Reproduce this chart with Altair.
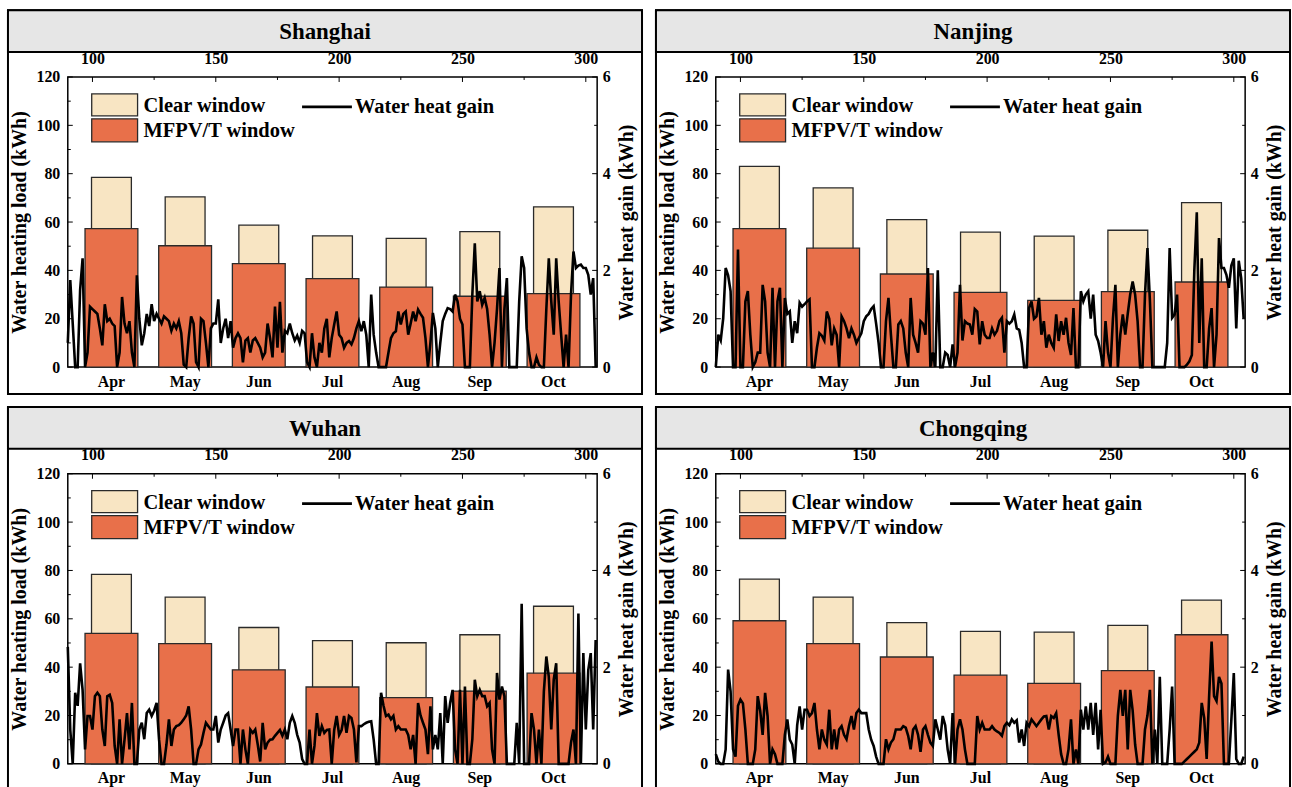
import altair as alt
import pandas as pd

SERIF = "Liberation Serif"
C_CLEAR = "#F8E5C3"
C_MFPV = "#E8704A"

months = ["Apr", "May", "Jun", "Jul", "Aug", "Sep", "Oct"]
days = list(range(90, 305))

clear_sh = [78.5, 70.4, 58.7, 54.3, 53.2, 56.0, 66.3]
mfpv_sh = [57.3, 50.2, 42.8, 36.6, 33.1, 29.3, 30.4]
clear_nj = [83.0, 74.1, 61.0, 55.8, 54.2, 56.6, 68.0]
mfpv_nj = [57.3, 49.2, 38.5, 30.9, 27.6, 31.2, 35.2]
clear_wh = [78.4, 69.0, 56.4, 51.0, 50.1, 53.4, 65.2]
mfpv_wh = [54.0, 49.7, 38.9, 31.8, 27.4, 30.1, 37.5]
clear_cq = [76.4, 69.0, 58.4, 54.8, 54.5, 57.3, 67.7]
mfpv_cq = [59.2, 49.7, 44.2, 36.7, 33.3, 38.6, 53.4]

gain_sh = [
    0.5, 1.8, 0.9, 0.0, 0.0, 1.6, 2.25, 0.0, 0.3, 1.25,
    1.2, 1.15, 1.1, 0.8, 0.45, 1.3, 0.95, 1.0, 0.9, 0.85,
    0.0, 0.3, 1.45, 0.9, 0.7, 0.95, 0.3, 0.0, 1.9, 1.0,
    0.45, 0.7, 1.1, 0.85, 1.3, 0.95, 1.1, 1.0, 0.9, 1.05,
    1.0, 0.95, 0.75, 0.9, 0.8, 0.95, 0.7, 0.05, 0.0, 0.6,
    1.05, 0.9, 0.1, 0.0, 1.0, 0.95, 0.5, 0.0, 0.8, 0.9,
    0.9, 1.4, 0.5, 0.8, 1.0, 0.6, 0.95, 0.4, 0.6, 0.7,
    0.6, 0.1, 0.55, 0.6, 0.3, 0.55, 0.6, 0.5, 0.4, 0.2,
    0.3, 0.9, 0.6, 0.2, 1.25, 0.4, 1.35, 0.3, 0.75, 0.7,
    0.9, 0.7, 0.55, 0.65, 0.5, 0.75, 0.7, 0.1, 0.0, 0.7,
    0.2, 0.0, 0.5, 0.3, 0.8, 1.0, 0.2, 0.6, 0.88, 1.15,
    0.67, 0.6, 0.4, 0.5, 0.54, 0.47, 0.6, 0.8, 0.95, 0.74,
    0.95, 0.67, 0.0, 1.5, 0.67, 0.3, 0.0, 0.0, 0.0, 0.0,
    0.3, 0.6, 0.7, 0.74, 1.15, 0.88, 1.1, 1.15, 0.67, 0.9,
    1.15, 0.95, 1.19, 1.1, 1.02, 0.6, 0.0, 0.5, 1.12, 0.8,
    0.0, 0.5, 0.95, 1.1, 1.22, 1.2, 1.15, 1.5, 1.36, 1.0,
    0.88, 0.0, 0.0, 0.0, 1.5, 2.56, 1.36, 1.57, 1.29, 1.43,
    1.2, 0.67, 0.0, 0.5, 1.2, 2.05, 0.0, 1.2, 1.84, 0.0,
    0.0, 0.0, 0.0, 1.36, 2.29, 2.05, 0.8, 0.3, 0.0, 0.0,
    0.2, 0.05, 0.0, 0.0, 1.2, 2.25, 1.36, 0.67, 2.25, 1.36,
    0.67, 0.0, 0.67, 0.0, 1.5, 2.39, 2.05, 2.1, 2.12, 2.05,
    2.05, 1.91, 1.5, 1.84, 0.0,
]

gain_nj = [
    0.0, 0.67, 0.55, 1.0, 2.05, 1.9, 1.57, 0.0, 0.0, 2.43,
    0.0, 0.0, 1.36, 1.57, 0.67, 0.0, 0.1, 0.3, 0.3, 1.7,
    1.36, 0.3, 0.0, 1.64, 0.0, 1.36, 1.64, 0.0, 1.43, 1.1,
    1.15, 0.5, 0.95, 0.7, 1.33, 1.25, 1.3, 1.36, 1.4, 0.0,
    0.0, 0.4, 0.7, 0.65, 0.55, 1.15, 1.0, 0.45, 0.8, 0.67,
    0.0, 1.05, 0.95, 0.8, 0.6, 0.8, 0.67, 0.5, 0.6, 0.7,
    0.95, 1.05, 1.1, 1.2, 1.26, 0.9, 0.5, 0.0, 0.0, 0.95,
    1.43, 0.67, 0.0, 0.0, 0.88, 0.95, 0.8, 0.3, 0.0, 1.43,
    0.67, 0.5, 0.3, 0.95, 0.9, 0.67, 2.05, 0.0, 0.3, 0.0,
    2.0, 0.0, 0.0, 0.3, 0.25, 0.0, 0.47, 0.0, 0.3, 1.7,
    0.55, 0.95, 0.9, 0.88, 0.67, 1.2, 1.15, 0.47, 0.95, 0.67,
    0.6, 0.6, 0.8, 0.67, 0.75, 0.95, 1.02, 0.3, 0.95, 0.9,
    0.95, 1.09, 0.8, 0.77, 0.5, 0.0, 0.0, 1.22, 1.36, 1.0,
    1.05, 1.43, 0.67, 0.95, 0.4, 0.67, 0.5, 0.4, 1.09, 0.54,
    0.95, 0.67, 1.02, 0.5, 0.25, 1.22, 0.0, 0.0, 1.57, 1.36,
    1.5, 1.57, 1.0, 1.5, 0.67, 0.54, 0.3, 0.0, 0.95, 0.3,
    0.0, 1.0, 1.7, 0.0, 0.67, 1.09, 0.67, 1.1, 1.5, 1.77,
    1.5, 0.95, 0.0, 0.0, 1.5, 2.46, 1.36, 0.0, 0.0, 0.0,
    0.0, 0.0, 0.0, 0.5, 2.46, 1.02, 1.09, 1.5, 0.0, 0.0,
    0.0, 0.05, 0.12, 0.25, 2.0, 3.2, 0.5, 2.25, 0.0, 0.0,
    0.8, 1.22, 0.0, 0.67, 2.67, 2.05, 2.05, 1.91, 1.64, 2.1,
    2.25, 0.8, 2.2, 1.84, 1.0,
]

gain_wh = [
    2.42, 0.71, 0.0, 1.47, 1.2, 2.08, 1.53, 0.3, 0.99, 0.99,
    0.71, 1.4, 1.47, 1.4, 0.71, 0.37, 1.4, 1.43, 1.26, 0.37,
    0.0, 0.92, 0.0, 0.5, 1.05, 0.3, 1.26, 0.0, 0.0, 0.71,
    0.85, 0.51, 1.05, 1.12, 0.99, 1.1, 1.26, 0.5, 0.0, 0.0,
    0.4, 0.92, 0.37, 0.71, 0.78, 0.8, 0.85, 0.92, 1.0, 1.19,
    0.71, 0.0, 0.0, 0.3, 0.4, 0.64, 0.85, 0.78, 0.71, 0.71,
    0.99, 0.44, 0.71, 0.85, 1.0, 1.05, 0.71, 0.37, 0.71, 0.71,
    0.0, 0.71, 0.3, 0.0, 0.71, 0.64, 0.71, 0.4, 0.05, 0.85,
    0.3, 0.44, 0.5, 0.51, 0.58, 0.64, 0.7, 0.58, 0.71, 0.51,
    0.85, 0.99, 0.85, 0.6, 0.44, 0.1, 0.0, 0.0, 0.71, 0.0,
    0.37, 1.05, 0.58, 0.78, 0.64, 0.7, 0.71, 0.0, 0.7, 0.99,
    0.6, 0.7, 0.99, 0.64, 0.99, 0.95, 0.71, 0.03, 0.78, 0.78,
    0.82, 0.85, 0.87, 0.88, 0.5, 0.0, 0.0, 1.47, 1.2, 0.99,
    1.02, 0.92, 0.99, 0.71, 0.78, 0.71, 0.71, 0.71, 0.6, 0.3,
    0.6, 0.0, 1.26, 1.0, 0.85, 0.71, 0.2, 1.19, 0.3, 0.6,
    0.3, 1.05, 0.0, 1.4, 0.85, 1.26, 1.53, 0.3, 0.0, 1.53,
    0.0, 1.6, 0.0, 0.0, 0.51, 1.74, 1.4, 1.53, 1.4, 1.4,
    1.19, 1.26, 0.3, 0.0, 1.88, 1.33, 1.6, 1.4, 0.0, 0.0,
    0.0, 0.0, 0.85, 0.0, 3.31, 0.0, 0.0, 0.0, 1.05, 0.71,
    0.0, 0.71, 0.0, 1.5, 2.22, 1.8, 0.71, 1.74, 2.08, 0.0,
    0.0, 0.0, 0.0, 0.0, 0.44, 0.71, 0.0, 3.11, 0.0, 2.29,
    0.71, 1.94, 2.29, 0.71, 2.56,
]

gain_cq = [
    0.2, 0.05, 0.0, 0.0, 0.3, 1.95, 1.5, 0.3, 0.15, 1.2,
    1.33, 1.25, 0.71, 0.0, 0.0, 0.0, 0.3, 1.4, 1.1, 0.6,
    1.47, 0.99, 0.0, 0.3, 0.2, 0.0, 0.0, 0.0, 0.6, 0.92,
    0.5, 0.4, 0.0, 0.8, 1.19, 0.71, 1.12, 1.12, 0.99, 1.05,
    1.26, 0.71, 0.3, 0.71, 0.5, 0.4, 1.12, 0.3, 0.71, 0.3,
    0.71, 0.78, 0.6, 0.51, 0.78, 0.99, 0.71, 1.05, 1.12, 1.05,
    1.05, 1.05, 0.71, 0.5, 0.37, 0.15, 0.0, 0.0, 0.0, 0.51,
    0.3, 0.44, 0.51, 0.71, 0.71, 0.71, 0.78, 0.75, 0.58, 0.3,
    0.71, 0.78, 0.6, 0.25, 0.71, 0.78, 0.6, 0.44, 0.37, 0.92,
    0.71, 0.5, 0.99, 0.8, 0.3, 0.0, 1.05, 0.0, 0.71, 0.92,
    0.71, 0.3, 0.0, 0.0, 0.0, 0.0, 0.99, 0.71, 0.85, 0.71,
    0.71, 0.71, 0.78, 0.71, 0.67, 0.64, 0.58, 0.78, 0.85, 0.8,
    0.92, 0.85, 0.9, 0.44, 0.71, 0.37, 0.85, 0.78, 0.92, 0.85,
    0.78, 0.85, 0.92, 0.98, 0.99, 0.71, 0.99, 0.95, 1.05, 0.6,
    0.2, 0.0, 0.0, 0.3, 0.92, 0.0, 0.3, 0.0, 1.12, 0.71,
    1.19, 0.71, 1.26, 0.6, 1.26, 0.3, 1.12, 0.0, 0.03, 0.15,
    0.0, 0.0, 0.0, 1.0, 1.53, 0.99, 1.53, 0.3, 1.53, 1.1,
    0.4, 0.0, 0.0, 0.0, 0.71, 1.0, 1.53, 0.0, 0.71, 0.0,
    1.8, 0.0, 0.0, 0.0, 0.71, 1.6, 0.0, 0.0, 0.0, 0.0,
    0.05, 0.1, 0.15, 0.2, 0.25, 0.3, 0.44, 1.26, 0.95, 0.1,
    1.4, 2.53, 1.4, 1.3, 1.8, 1.66, 0.0, 0.0, 0.0, 0.9,
    1.88, 0.1, 0.0, 0.0, 0.15,
]

load_ticks_major = [0, 20, 40, 60, 80, 100, 120]
load_ticks_minor = [10, 30, 50, 70, 90, 110]
day_ticks_major = [100, 150, 200, 250, 300]
day_ticks_minor = [125, 175, 225, 275]
gain_ticks_major = [0, 2, 4, 6]
gain_ticks_minor = [1, 3, 5]

W, H = 531, 291
LEG_FS = 20.5


def one(label):
    return pd.DataFrame({"label": [label]})


def panel(city, clear_vals, mfpv_vals, gain_vals, bottom_row):
    bars = pd.DataFrame({"month": months, "clear": clear_vals, "mfpv": mfpv_vals})
    line = pd.DataFrame({"day": days, "gain": gain_vals})

    band = alt.Scale(paddingInner=0, paddingOuter=0.0925)
    yload = alt.Scale(domain=[0, 120], nice=False)
    xday = alt.Scale(domain=[90, 304.6], nice=False, zero=False)
    ygain = alt.Scale(domain=[0, 6], nice=False)

    # panel frame and title bar
    title_bar = alt.Chart(one(city)).mark_rect(
        fill="#E6E6E6", stroke="black", strokeWidth=2
    ).encode(x=alt.value(-60), x2=alt.value(W + 45), y=alt.value(-67), y2=alt.value(-25))
    title_txt = alt.Chart(one(city)).mark_text(
        font=SERIF, fontSize=23, fontWeight="bold", color="black",
        align="center", baseline="middle"
    ).encode(x=alt.value((W - 15) / 2), y=alt.value(-45), text="label:N")
    if bottom_row:
        frame_l = alt.Chart(one("l")).mark_rule(color="black", strokeWidth=2).encode(
            x=alt.value(-60), y=alt.value(-67), y2=alt.value(H + 24))
        frame_r = alt.Chart(one("r")).mark_rule(color="black", strokeWidth=2).encode(
            x=alt.value(W + 45), y=alt.value(-67), y2=alt.value(H + 24))
        frames = [frame_l, frame_r]
    else:
        frame = alt.Chart(one("f")).mark_rect(
            fill="white", fillOpacity=0, stroke="black", strokeWidth=2
        ).encode(x=alt.value(-60), x2=alt.value(W + 45), y=alt.value(-67), y2=alt.value(H + 27))
        frames = [frame]

    clear_bar = alt.Chart(bars).mark_bar(
        width=alt.RelativeBandSize(0.541), fill=C_CLEAR, stroke="#2a2a2a", strokeWidth=1.3
    ).encode(
        x=alt.X("month:N", sort=months, scale=band,
                axis=alt.Axis(orient="bottom", title=None, ticks=False, tickSize=0,
                              domain=False, labelAngle=0, labelPadding=6)),
        y=alt.Y("clear:Q", scale=yload,
                axis=alt.Axis(orient="left", values=load_ticks_major,
                              title="Water heating load (kWh)", ticks=False, tickSize=0,
                              domain=False, grid=False, labelPadding=8, titlePadding=6)),
    )
    mfpv_bar = alt.Chart(bars).mark_bar(
        width=alt.RelativeBandSize(0.717), fill=C_MFPV, stroke="#2a2a2a", strokeWidth=1.3
    ).encode(
        x=alt.X("month:N", sort=months, scale=band, axis=None),
        y=alt.Y("mfpv:Q", scale=yload, axis=None),
    )
    line_mark = alt.Chart(line).mark_line(color="black", strokeWidth=2.6).encode(
        x=alt.X("day:Q", scale=xday,
                axis=alt.Axis(orient="top", values=day_ticks_major, title=None,
                              ticks=False, tickSize=0, domain=False, grid=False,
                              labelPadding=11, format="d")),
        y=alt.Y("gain:Q", scale=ygain,
                axis=alt.Axis(orient="right", values=gain_ticks_major,
                              title="Water heat gain (kWh)", titleAngle=270,
                              titleBaseline="top",
                              ticks=False, tickSize=0, domain=False, grid=False,
                              labelPadding=5, titlePadding=6)),
    )

    # inward ticks
    def hticks(vals, scale, x0, x1):
        return alt.Chart(pd.DataFrame({"v": vals})).mark_rule(
            color="black", strokeWidth=1).encode(
            y=alt.Y("v:Q", scale=scale, axis=None), x=alt.value(x0), x2=alt.value(x1))

    lt_major = hticks(load_ticks_major, yload, 0, 5)
    lt_minor = hticks(load_ticks_minor, yload, 0, 3)
    rt_major = hticks(gain_ticks_major, ygain, W - 5, W)
    rt_minor = hticks(gain_ticks_minor, ygain, W - 3, W)
    tt_major = alt.Chart(pd.DataFrame({"t": day_ticks_major})).mark_rule(
        color="black", strokeWidth=1).encode(
        x=alt.X("t:Q", scale=xday, axis=None), y=alt.value(0), y2=alt.value(5))
    tt_minor = alt.Chart(pd.DataFrame({"t": day_ticks_minor})).mark_rule(
        color="black", strokeWidth=1).encode(
        x=alt.X("t:Q", scale=xday, axis=None), y=alt.value(0), y2=alt.value(3))

    # legend
    sw1 = alt.Chart(one("Clear window")).mark_rect(
        fill=C_CLEAR, stroke="#2a2a2a", strokeWidth=1.3).encode(
        x=alt.value(24), x2=alt.value(70), y=alt.value(17), y2=alt.value(39))
    sw2 = alt.Chart(one("MFPV/T window")).mark_rect(
        fill=C_MFPV, stroke="#2a2a2a", strokeWidth=1.3).encode(
        x=alt.value(24), x2=alt.value(70), y=alt.value(42), y2=alt.value(65))

    def ltext(label, x, y):
        return alt.Chart(one(label)).mark_text(
            font=SERIF, fontSize=LEG_FS, fontWeight="bold", color="black",
            align="left", baseline="middle").encode(
            x=alt.value(x), y=alt.value(y), text="label:N")

    tx1 = ltext("Clear window", 76, 29)
    tx2 = ltext("MFPV/T window", 76, 54)
    lg_line = alt.Chart(one("Water heat gain")).mark_rule(
        color="black", strokeWidth=2.6).encode(
        x=alt.value(235), x2=alt.value(285), y=alt.value(30))
    tx3 = ltext("Water heat gain", 288, 30)

    return alt.layer(
        clear_bar, *frames, title_bar, title_txt, mfpv_bar, line_mark,
        lt_major, lt_minor, rt_major, rt_minor, tt_major, tt_minor,
        sw1, sw2, tx1, tx2, lg_line, tx3,
    ).resolve_scale(x="independent", y="independent").properties(width=W, height=H)


p1 = panel("Shanghai", clear_sh, mfpv_sh, gain_sh, False)
p2 = panel("Nanjing", clear_nj, mfpv_nj, gain_nj, False)
p3 = panel("Wuhan", clear_wh, mfpv_wh, gain_wh, True)
p4 = panel("Chongqing", clear_cq, mfpv_cq, gain_cq, True)

row1 = alt.hconcat(p1, p2, spacing=10)
row2 = alt.hconcat(p3, p4, spacing=10)
chart = alt.vconcat(row1, row2, spacing=9).properties(
    padding={"left": 6, "top": 7, "right": 0, "bottom": 0},
    background="white",
).configure_view(
    stroke="black", strokeWidth=1.5
).configure_axis(
    labelFont=SERIF, titleFont=SERIF, labelFontSize=16, labelFontWeight="bold",
    titleFontSize=20, titleFontWeight="bold", labelColor="black", titleColor="black",
    grid=False,
)

chart.save("out.html", embed_options={"renderer": "svg", "actions": False})
